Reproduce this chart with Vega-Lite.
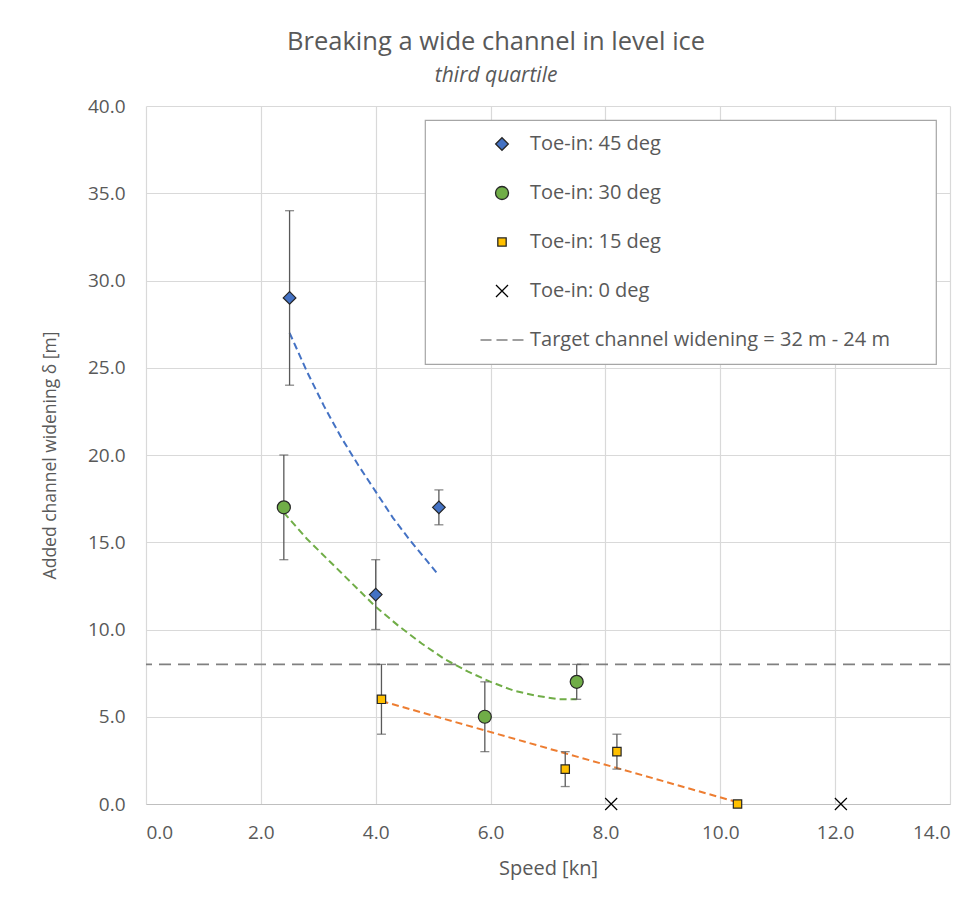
{
  "$schema": "https://vega.github.io/schema/vega-lite/v6.json",
  "width": 804,
  "height": 698,
  "autosize": {"type": "none"},
  "padding": {"left": 146, "top": 106, "right": 26, "bottom": 93},
  "background": "white",
  "title": {
    "text": "Breaking a wide channel in level ice",
    "subtitle": "third quartile",
    "anchor": "middle",
    "frame": "bounds",
    "font": "Open Sans",
    "fontSize": 25.5,
    "fontWeight": "normal",
    "color": "#595959",
    "subtitleFont": "Open Sans",
    "subtitleFontSize": 21,
    "subtitleFontStyle": "italic",
    "subtitleColor": "#595959",
    "subtitlePadding": 10,
    "offset": 11
  },
  "datasets": {
    "points": [
      {"series": "Toe-in: 45 deg", "speed": 2.5, "value": 29, "lo": 24, "hi": 34},
      {"series": "Toe-in: 45 deg", "speed": 4.0, "value": 12, "lo": 10, "hi": 14},
      {"series": "Toe-in: 45 deg", "speed": 5.1, "value": 17, "lo": 16, "hi": 18},
      {"series": "Toe-in: 30 deg", "speed": 2.4, "value": 17, "lo": 14, "hi": 20},
      {"series": "Toe-in: 30 deg", "speed": 5.9, "value": 5, "lo": 3, "hi": 7},
      {"series": "Toe-in: 30 deg", "speed": 7.5, "value": 7, "lo": 6, "hi": 8},
      {"series": "Toe-in: 15 deg", "speed": 4.1, "value": 6, "lo": 4, "hi": 8},
      {"series": "Toe-in: 15 deg", "speed": 7.3, "value": 2, "lo": 1, "hi": 3},
      {"series": "Toe-in: 15 deg", "speed": 8.2, "value": 3, "lo": 2, "hi": 4},
      {"series": "Toe-in: 15 deg", "speed": 10.3, "value": 0},
      {"series": "Toe-in: 0 deg", "speed": 8.1, "value": 0},
      {"series": "Toe-in: 0 deg", "speed": 12.1, "value": 0}
    ],
    "trends": [
      {"series": "Toe-in: 45 deg", "speed": 2.5, "value": 27.0},
      {"series": "Toe-in: 45 deg", "speed": 2.8, "value": 24.8},
      {"series": "Toe-in: 45 deg", "speed": 3.1, "value": 22.8},
      {"series": "Toe-in: 45 deg", "speed": 3.4, "value": 21.0},
      {"series": "Toe-in: 45 deg", "speed": 3.7, "value": 19.4},
      {"series": "Toe-in: 45 deg", "speed": 4.0, "value": 17.9},
      {"series": "Toe-in: 45 deg", "speed": 4.3, "value": 16.4},
      {"series": "Toe-in: 45 deg", "speed": 4.6, "value": 15.1},
      {"series": "Toe-in: 45 deg", "speed": 4.9, "value": 13.9},
      {"series": "Toe-in: 45 deg", "speed": 5.1, "value": 13.1},
      {"series": "Toe-in: 30 deg", "speed": 2.4, "value": 16.7},
      {"series": "Toe-in: 30 deg", "speed": 2.8, "value": 15.2},
      {"series": "Toe-in: 30 deg", "speed": 3.2, "value": 13.9},
      {"series": "Toe-in: 30 deg", "speed": 3.6, "value": 12.6},
      {"series": "Toe-in: 30 deg", "speed": 4.0, "value": 11.3},
      {"series": "Toe-in: 30 deg", "speed": 4.4, "value": 10.2},
      {"series": "Toe-in: 30 deg", "speed": 4.8, "value": 9.2},
      {"series": "Toe-in: 30 deg", "speed": 5.2, "value": 8.3},
      {"series": "Toe-in: 30 deg", "speed": 5.6, "value": 7.6},
      {"series": "Toe-in: 30 deg", "speed": 6.0, "value": 7.0},
      {"series": "Toe-in: 30 deg", "speed": 6.4, "value": 6.5},
      {"series": "Toe-in: 30 deg", "speed": 6.8, "value": 6.2},
      {"series": "Toe-in: 30 deg", "speed": 7.2, "value": 6.0},
      {"series": "Toe-in: 30 deg", "speed": 7.5, "value": 6.0},
      {"series": "Toe-in: 15 deg", "speed": 4.1, "value": 5.9},
      {"series": "Toe-in: 15 deg", "speed": 10.3, "value": 0.1}
    ],
    "target": [{"value": 8}]
  },
  "config": {
    "font": "Open Sans",
    "view": {"stroke": null},
    "axis": {
      "grid": true,
      "gridColor": "#d9d9d9",
      "gridWidth": 1.2,
      "ticks": false,
      "labelFont": "Open Sans",
      "labelFontSize": 19,
      "labelColor": "#595959",
      "titleFont": "Open Sans",
      "titleFontWeight": "normal",
      "titleColor": "#595959"
    },
    "legend": {
      "orient": "none",
      "legendX": 279,
      "legendY": 14,
      "strokeColor": "#a6a6a6",
      "strokeWidth": 1.2,
      "fillColor": "white",
      "padding": 14,
      "symbolOffset": 53,
      "labelOffset": 18,
      "rowPadding": 29,
      "labelFont": "Open Sans",
      "labelFontSize": 20,
      "labelColor": "#595959",
      "symbolStrokeWidth": 1.3,
      "labelLimit": 700
    }
  },
  "layer": [
    {
      "data": {"name": "target"},
      "mark": {"type": "rule", "color": "#808080", "strokeWidth": 1.6, "strokeDash": [12, 7]},
      "encoding": {"y": {"field": "value", "type": "quantitative"}}
    },
    {
      "data": {"name": "trends"},
      "mark": {"type": "line", "strokeWidth": 2, "strokeDash": [7, 4]},
      "encoding": {
        "x": {"field": "speed", "type": "quantitative"},
        "y": {"field": "value", "type": "quantitative"},
        "detail": {"field": "series"},
        "color": {
          "field": "series",
          "type": "nominal",
          "scale": {"domain": ["Toe-in: 45 deg", "Toe-in: 30 deg", "Toe-in: 15 deg"], "range": ["#4472C4", "#70AD47", "#ED7D31"]},
          "legend": null
        }
      }
    },
    {
      "data": {"name": "points"},
      "transform": [{"filter": "isValid(datum.lo)"}],
      "mark": {"type": "rule", "color": "#595959", "strokeWidth": 1.3},
      "encoding": {
        "x": {"field": "speed", "type": "quantitative"},
        "y": {"field": "lo", "type": "quantitative"},
        "y2": {"field": "hi"}
      }
    },
    {
      "data": {"name": "points"},
      "transform": [{"filter": "isValid(datum.lo)"}],
      "mark": {"type": "tick", "orient": "horizontal", "color": "#595959", "size": 9, "thickness": 1.3},
      "encoding": {
        "x": {"field": "speed", "type": "quantitative"},
        "y": {"field": "lo", "type": "quantitative"}
      }
    },
    {
      "data": {"name": "points"},
      "transform": [{"filter": "isValid(datum.hi)"}],
      "mark": {"type": "tick", "orient": "horizontal", "color": "#595959", "size": 9, "thickness": 1.3},
      "encoding": {
        "x": {"field": "speed", "type": "quantitative"},
        "y": {"field": "hi", "type": "quantitative"}
      }
    },
    {
      "data": {"name": "points"},
      "mark": {"type": "point", "filled": true, "opacity": 1, "strokeWidth": 1.2},
      "encoding": {
        "x": {
          "field": "speed",
          "type": "quantitative",
          "title": "Speed [kn]",
          "scale": {"domain": [0, 14], "nice": false, "zero": false},
          "axis": {"values": [0, 2, 4, 6, 8, 10, 12, 14], "format": ".1f", "domain": true, "domainColor": "#bfbfbf", "domainWidth": 1.2, "labelPadding": 19, "titlePadding": 16, "titleFontSize": 20}
        },
        "y": {
          "field": "value",
          "type": "quantitative",
          "title": "Added channel widening δ [m]",
          "scale": {"domain": [0, 40], "nice": false},
          "axis": {"values": [0, 5, 10, 15, 20, 25, 30, 35, 40], "format": ".1f", "domain": false, "labelPadding": 21, "titlePadding": 28, "titleFontSize": 17.5}
        },
        "shape": {
          "field": "series",
          "type": "nominal",
          "title": null,
          "scale": {
            "domain": ["Toe-in: 45 deg", "Toe-in: 30 deg", "Toe-in: 15 deg", "Toe-in: 0 deg", "Target channel widening = 32 m - 24 m"],
            "range": ["diamond", "circle", "square", "M-1,-1L1,1M-1,1L1,-1", "M-3.07,0L-1.5,0M-0.79,0L0.79,0M1.5,0L3.07,0M59.6,0"]
          }
        },
        "fill": {
          "field": "series",
          "type": "nominal",
          "title": null,
          "scale": {
            "domain": ["Toe-in: 45 deg", "Toe-in: 30 deg", "Toe-in: 15 deg", "Toe-in: 0 deg", "Target channel widening = 32 m - 24 m"],
            "range": ["#4472C4", "#70AD47", "#FFC000", "#000000", "#808080"]
          }
        },
        "stroke": {
          "field": "series",
          "type": "nominal",
          "title": null,
          "scale": {
            "domain": ["Toe-in: 45 deg", "Toe-in: 30 deg", "Toe-in: 15 deg", "Toe-in: 0 deg", "Target channel widening = 32 m - 24 m"],
            "range": ["#262626", "#262626", "#262626", "#000000", "#808080"]
          }
        },
        "size": {
          "field": "series",
          "type": "nominal",
          "title": null,
          "scale": {
            "type": "ordinal",
            "domain": ["Toe-in: 45 deg", "Toe-in: 30 deg", "Toe-in: 15 deg", "Toe-in: 0 deg", "Target channel widening = 32 m - 24 m"],
            "range": [160, 169, 70, 144, 196]
          }
        }
      }
    }
  ]
}
